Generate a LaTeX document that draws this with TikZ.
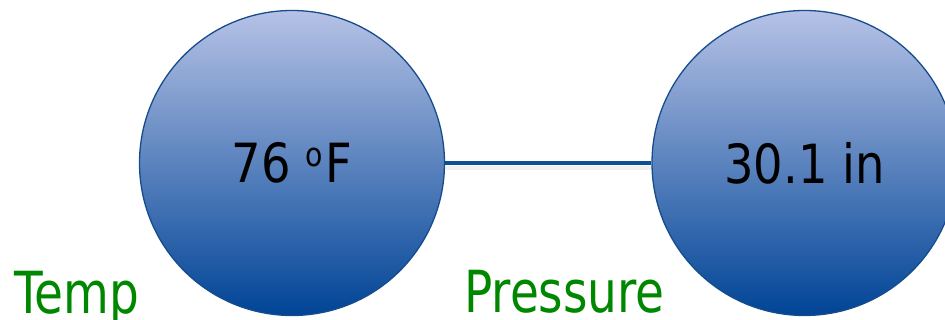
\documentclass[tikz,border=0pt]{standalone}
\usepackage{fontspec}
\newfontfamily\labfont[FakeStretch=0.81]{DejaVu Sans}
\newfontfamily\ballfont[FakeStretch=0.86]{DejaVu Sans}
\definecolor{ctop}{RGB}{182,194,230}
\definecolor{cbot}{RGB}{0,68,150}
\definecolor{cedge}{RGB}{22,76,140}
\definecolor{cline}{RGB}{11,79,148}
\definecolor{cgreen}{RGB}{0,135,0}
\tikzset{
  ball/.style={circle, minimum size=305pt, inner sep=0pt, draw=cedge, line width=1.3pt,
    top color=ctop, bottom color=cbot, font=\ballfont\fontsize{54}{56}\selectfont, text=black},
  link/.style={draw=cline, line width=4.5pt},
  shade line/.style={draw=black!6, line width=4pt},
  lab/.style={anchor=base west, inner sep=0pt, text=cgreen, font=\labfont\fontsize{58}{60}\selectfont}
}
\begin{document}
\begin{tikzpicture}[x=1pt,y=1pt]
\useasboundingbox (0,0) rectangle (945,320);
\clip (0,0) rectangle (945,320);
\node[ball] (t) at (292,157) {76\hspace{14pt}\raisebox{16pt}{\fontsize{33}{33}\selectfont o}\hspace{3pt}F};
\node[ball] (p) at (804.5,157) {30.1 in};
\draw[shade line] ([yshift=-5pt]t.east) -- ([yshift=-5pt]p.west);
\draw[link] (t) -- (p);
\node[lab] (tl) at (14,6) {Temp};
\node[lab] (pl) at (464,7) {Pressure};
\end{tikzpicture}
\end{document}
